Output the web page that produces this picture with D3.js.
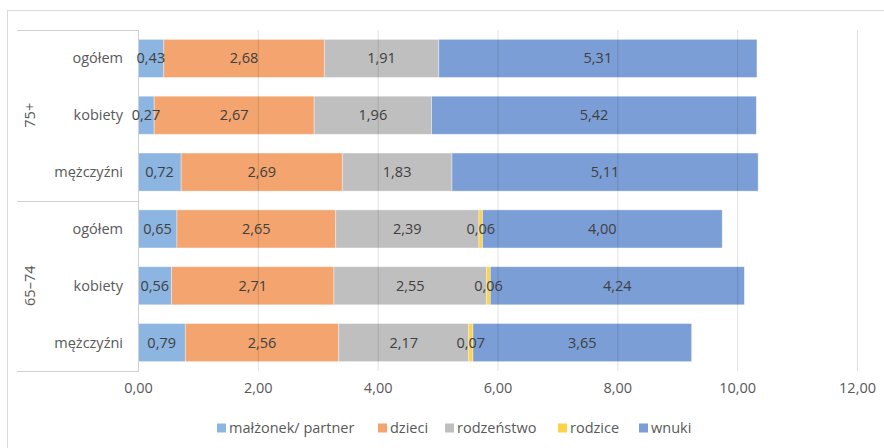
<!DOCTYPE html>
<html>
<head>
<meta charset="utf-8">
<script src="https://cdn.jsdelivr.net/npm/d3@7/dist/d3.min.js"></script>
<style>
  html, body { margin: 0; padding: 0; background: #fff; }
  svg { display: block; font-family: "Open Sans", "Noto Sans", sans-serif; }
</style>
</head>
<body>
<svg id="chart" width="884" height="448"></svg>
<script>
// Age groups and sub-categories (top to bottom)
const groups = ["75+", "65–74"];
const subgroups = ["ogółem", "kobiety", "mężczyźni"];

// Series (stack order left to right)
const seriesNames = ["małżonek/ partner", "dzieci", "rodzeństwo", "rodzice", "wnuki"];
const seriesColors = ["#8DB5E2", "#F3A46F", "#BFBFBF", "#FFD347", "#7B9ED6"];

// Values per row: 75+ ogółem, kobiety, mężczyźni, 65–74 ogółem, kobiety, mężczyźni
const malzonek   = [0.43, 0.27, 0.72, 0.65, 0.56, 0.79];
const dzieci     = [2.68, 2.67, 2.69, 2.65, 2.71, 2.56];
const rodzenstwo = [1.91, 1.96, 1.83, 2.39, 2.55, 2.17];
const rodzice    = [0,    0,    0,    0.06, 0.06, 0.07];
const wnuki      = [5.31, 5.42, 5.11, 4.00, 4.24, 3.65];

const xTicks = [0, 2, 4, 6, 8, 10, 12];

const seriesValues = [malzonek, dzieci, rodzenstwo, rodzice, wnuki];

const rows = [];
groups.forEach((g, gi) => subgroups.forEach((s, si) => {
  const i = gi * subgroups.length + si;
  const r = { key: g + "|" + s, group: g, label: s };
  seriesNames.forEach((n, k) => r[n] = seriesValues[k][i]);
  rows.push(r);
}));

const svg = d3.select("#chart");
const plot = { left: 138, right: 857, top: 30, bottom: 371 };
const fontSize = 14.5;

const x = d3.scaleLinear().domain([0, 12]).range([plot.left, plot.right]);
const y = d3.scaleBand().domain(rows.map(r => r.key))
  .range([plot.top, plot.bottom]).paddingInner(0.33).paddingOuter(0.165);

const fmt = v => d3.format(".2f")(v).replace(".", ",");
const textColor = "#404040";

// outer chart border
svg.append("rect").attr("x", 7.5).attr("y", 10.5).attr("width", 900).attr("height", 460)
  .attr("fill", "none").attr("stroke", "#d9d9d9");

// stacked bars
const stack = d3.stack().keys(seriesNames)(rows);
const layers = svg.append("g").selectAll("g").data(stack).join("g")
  .attr("fill", (d, i) => seriesColors[i]);

layers.selectAll("rect").data(d => d).join("rect")
  .attr("x", d => x(d[0]))
  .attr("y", d => y(d.data.key))
  .attr("width", d => Math.max(0, x(d[1]) - x(d[0])))
  .attr("height", y.bandwidth())
  .attr("stroke", "rgba(255,255,255,0.45)")
  .attr("stroke-width", 0.8);

// vertical gridlines (drawn over the bars, lightly)
svg.append("g").selectAll("line").data(xTicks.filter(t => t > 0)).join("line")
  .attr("x1", d => x(d) + 0.5).attr("x2", d => x(d) + 0.5)
  .attr("y1", plot.top).attr("y2", plot.bottom)
  .attr("stroke", "rgba(0,0,0,0.12)").attr("stroke-width", 1);

// category axis: left box lines
const axisG = svg.append("g").attr("stroke", "#d0d0d0").attr("fill", "none");
axisG.append("line").attr("x1", plot.left + 0.5).attr("x2", plot.left + 0.5)
  .attr("y1", plot.top).attr("y2", plot.bottom + 1);
const splitY = [plot.top, (y(rows[2].key) + y.bandwidth() + y(rows[3].key)) / 2, plot.bottom];
splitY.forEach(v => axisG.append("line")
  .attr("x1", 17).attr("x2", plot.left + 0.5)
  .attr("y1", Math.round(v) + 0.5).attr("y2", Math.round(v) + 0.5));

// data labels, drawn after all segments so none are covered
const labelData = stack.flatMap(layer => layer.filter(d => d[1] - d[0] > 0));
svg.append("g").selectAll("text").data(labelData).join("text")
  .attr("x", d => (x(d[0]) + x(d[1])) / 2)
  .attr("y", d => y(d.data.key) + y.bandwidth() / 2)
  .attr("dy", "0.35em")
  .attr("text-anchor", "middle")
  .attr("fill", textColor)
  .attr("font-size", fontSize)
  .text(d => fmt(d[1] - d[0]));

// sub-category labels
svg.append("g").selectAll("text").data(rows).join("text")
  .attr("x", 123)
  .attr("y", d => y(d.key) + y.bandwidth() / 2)
  .attr("dy", "0.35em")
  .attr("text-anchor", "end")
  .attr("fill", "#595959")
  .attr("font-size", fontSize)
  .text(d => d.label);

// group labels (rotated)
groups.forEach((g, gi) => {
  const first = rows[gi * 3], last = rows[gi * 3 + 2];
  const cy = (y(first.key) + y(last.key) + y.bandwidth()) / 2;
  svg.append("text")
    .attr("transform", `translate(30,${cy}) rotate(-90)`)
    .attr("text-anchor", "middle")
    .attr("dy", "0.35em")
    .attr("fill", "#595959")
    .attr("font-size", fontSize)
    .text(g);
});

// value axis
const xAxis = d3.axisBottom(x).tickValues(xTicks).tickFormat(fmt).tickSize(0).tickPadding(12);
const xg = svg.append("g").attr("transform", `translate(0,${plot.bottom})`).call(xAxis);
xg.select(".domain").remove();
xg.selectAll("text").attr("fill", "#595959").attr("font-size", fontSize)
  .attr("font-family", "'Open Sans', 'Noto Sans', sans-serif");

// legend
const legendX = [217, 378, 445, 558, 639];
const legend = svg.append("g").selectAll("g").data(seriesNames).join("g")
  .attr("transform", (d, i) => `translate(${legendX[i]},428)`);
legend.append("rect").attr("x", 0).attr("y", -4.5).attr("width", 9).attr("height", 9)
  .attr("fill", (d, i) => seriesColors[i]);
legend.append("text").attr("x", 12).attr("dy", "0.35em")
  .attr("fill", "#595959").attr("font-size", fontSize).text(d => d);
</script>
</body>
</html>
